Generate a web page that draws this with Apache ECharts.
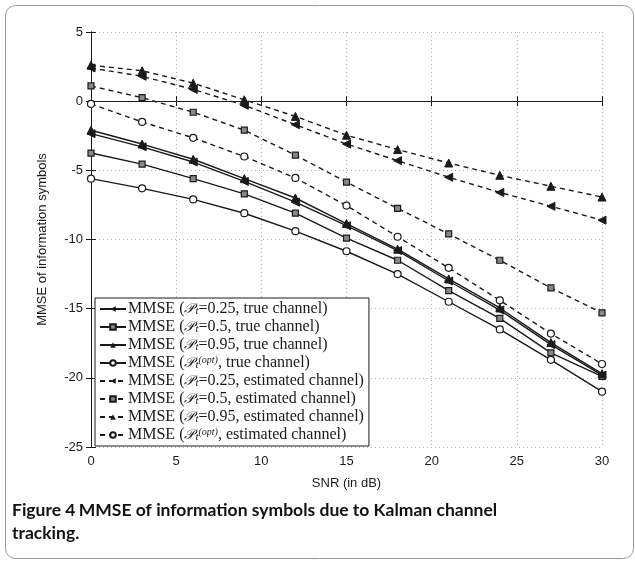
<!DOCTYPE html>
<html>
<head>
<meta charset="utf-8">
<script src="https://cdn.jsdelivr.net/npm/echarts@6/dist/echarts.min.js"></script>
<style>
  html, body { margin: 0; padding: 0; background: #fff; }
  #chart { width: 635px; height: 568px; }
</style>
</head>
<body>
<div id="chart"></div>
<script>
// SNR points (dB)
const snr = [0, 3, 6, 9, 12, 15, 18, 21, 24, 27, 30];

// MMSE values, true channel
const true025 = [-2.35, -3.3, -4.4, -5.8, -7.3, -9.0, -10.8, -13.0, -15.1, -17.6, -19.8];
const true05  = [-3.75, -4.55, -5.6, -6.7, -8.1, -9.9, -11.5, -13.7, -15.7, -18.2, -19.9];
const true095 = [-2.1, -3.1, -4.2, -5.6, -7.0, -8.85, -10.7, -12.85, -14.95, -17.45, -19.7];
const trueOpt = [-5.6, -6.3, -7.1, -8.1, -9.4, -10.85, -12.5, -14.5, -16.5, -18.7, -21.0];

// MMSE values, estimated channel
const est025 = [2.4, 1.8, 0.85, -0.3, -1.7, -3.1, -4.3, -5.5, -6.6, -7.6, -8.6];
const est05  = [1.1, 0.25, -0.8, -2.1, -3.9, -5.85, -7.75, -9.6, -11.5, -13.5, -15.3];
const est095 = [2.6, 2.2, 1.3, 0.1, -1.1, -2.46, -3.5, -4.47, -5.36, -6.15, -6.93];
const estOpt = [-0.2, -1.5, -2.65, -4.0, -5.55, -7.55, -9.8, -12.05, -14.4, -16.8, -19.0];

const ink = '#1a1a1a';

function pairs(vals) {
  return vals.map((v, i) => [snr[i], v]);
}

// legend labels (rich text)
const labels = {
  t025: '{n|MMSE (}{p|𝒫}{s|t}{n|=0.25, true channel)}',
  t05: '{n|MMSE (}{p|𝒫}{s|t}{n|=0.5, true channel)}',
  t095: '{n|MMSE (}{p|𝒫}{s|t}{n|=0.95, true channel)}',
  topt: '{n|MMSE (}{p|𝒫}{s|t}{sup|(opt)}{n|, true channel)}',
  e025: '{n|MMSE (}{p|𝒫}{s|t}{n|=0.25, estimated channel)}',
  e05: '{n|MMSE (}{p|𝒫}{s|t}{n|=0.5, estimated channel)}',
  e095: '{n|MMSE (}{p|𝒫}{s|t}{n|=0.95, estimated channel)}',
  eopt: '{n|MMSE (}{p|𝒫}{s|t}{sup|(opt)}{n|, estimated channel)}'
};

const markers = {
  left: { symbol: 'triangle', symbolRotate: 90, symbolSize: 8, itemStyle: { color: ink, borderColor: ink } },
  square: { symbol: 'rect', symbolSize: 6, itemStyle: { color: '#888', borderColor: ink, borderWidth: 1.2 } },
  up: { symbol: 'triangle', symbolSize: 8, itemStyle: { color: ink, borderColor: ink } },
  circle: { symbol: 'circle', symbolSize: 7, itemStyle: { color: '#fff', borderColor: ink, borderWidth: 1.2 } }
};

function line(name, vals, mk, dashed) {
  return Object.assign({
    name: name,
    type: 'line',
    data: pairs(vals),
    showAllSymbol: true,
    animation: false,
    lineStyle: { color: ink, width: 1.4, type: dashed ? [5, 4] : 'solid' },
    emphasis: { disabled: true }
  }, JSON.parse(JSON.stringify(mk)));
}

const chart = echarts.init(document.getElementById('chart'));

const axisFont = { fontFamily: 'Liberation Sans', fontSize: 13, color: ink };
const gridLine = { show: true, lineStyle: { color: '#b0b0b0', type: [1, 3], width: 1 } };

chart.setOption({
  animation: false,
  grid: { left: 91, right: 33, top: 32, bottom: 121 },
  xAxis: [
    {
      type: 'value', min: 0, max: 30, interval: 5,
      axisLine: { lineStyle: { color: ink, width: 1 } },
      axisTick: { inside: true, length: 5, lineStyle: { color: ink } },
      axisLabel: Object.assign({ margin: 8 }, axisFont),
      splitLine: gridLine,
      name: 'SNR (in dB)', nameLocation: 'middle', nameGap: 30,
      nameTextStyle: axisFont
    },
    {
      type: 'value', min: 0, max: 30, interval: 5, position: 'top',
      axisLine: { lineStyle: { color: ink, width: 1 } },
      axisTick: { inside: true, length: 5, lineStyle: { color: ink } },
      axisLabel: { show: false },
      splitLine: { show: false }
    }
  ],
  yAxis: [
    {
      type: 'value', min: -25, max: 5, interval: 5,
      axisLine: { show: true, lineStyle: { color: ink, width: 1 } },
      axisTick: { show: true, inside: true, length: 5, lineStyle: { color: ink } },
      axisLabel: Object.assign({ margin: 8 }, axisFont),
      splitLine: gridLine,
      name: 'MMSE of information symbols', nameLocation: 'middle', nameGap: 42,
      nameTextStyle: axisFont
    },
    {
      type: 'value', min: -25, max: 5, interval: 5, position: 'right',
      axisLine: { show: true, lineStyle: { color: ink, width: 1 } },
      axisTick: { show: true, inside: true, length: 5, lineStyle: { color: ink } },
      axisLabel: { show: false },
      splitLine: { show: false }
    }
  ],
  legend: {
    orient: 'vertical',
    left: 95, top: 298,
    padding: [3, 5, 3, 4],
    itemGap: 2,
    itemWidth: 26, itemHeight: 7,
    backgroundColor: '#fff',
    borderColor: ink, borderWidth: 1,
    selectedMode: false,
    data: ['t025', 't05', 't095', 'topt', 'e025', 'e05', 'e095', 'eopt'],
    formatter: function (name) { return labels[name]; },
    textStyle: {
      fontFamily: 'Liberation Serif', fontSize: 16, color: ink, padding: [0, 0, 0, -3],
      rich: {
        n: { fontFamily: 'Liberation Serif', fontSize: 16, color: ink, lineHeight: 16 },
        p: { fontFamily: 'DejaVu Serif', fontStyle: 'italic', fontSize: 14, color: ink, lineHeight: 16 },
        s: { fontFamily: 'Liberation Serif', fontStyle: 'italic', fontSize: 11, color: ink, lineHeight: 9, verticalAlign: 'bottom', padding: [0, 0, 0, 1] },
        sup: { fontFamily: 'Liberation Serif', fontStyle: 'italic', fontSize: 10, color: ink, lineHeight: 8, verticalAlign: 'top' }
      }
    }
  },
  graphic: [
    {
      type: 'rect', left: 3, top: 3, z: -10,
      shape: { width: 628, height: 553, r: 10 },
      style: { fill: 'none', stroke: '#9a9a9a', lineWidth: 1 }
    },
    {
      type: 'text', left: 12, top: 501,
      style: {
        text: '{b|Figure 4} {m|MMSE of information symbols due to Kalman channel}\n{m|tracking.}',
        rich: {
          b: { fontFamily: 'Lato', fontWeight: 'bold', fontSize: 17.5, fill: '#111', lineHeight: 23 },
          m: { fontFamily: 'Lato', fontWeight: 'bold', fontSize: 17.5, fill: '#111', lineHeight: 23 }
        }
      }
    }
  ],
  series: [
    line('t025', true025, markers.left, false),
    line('t05', true05, markers.square, false),
    line('t095', true095, markers.up, false),
    line('topt', trueOpt, markers.circle, false),
    line('e025', est025, markers.left, true),
    line('e05', est05, markers.square, true),
    line('e095', est095, markers.up, true),
    line('eopt', estOpt, markers.circle, true)
  ]
});
</script>
</body>
</html>
